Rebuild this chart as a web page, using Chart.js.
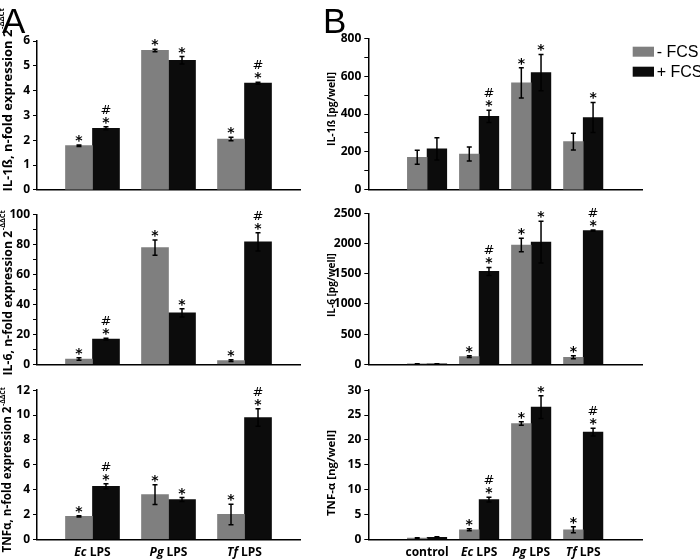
<!DOCTYPE html>
<html>
<head>
<meta charset="utf-8">
<script src="https://cdn.jsdelivr.net/npm/chart.js@4.4.1/dist/chart.umd.min.js"></script>
<style>
  body { margin: 0; background: #fff; }
  #fig { position: relative; width: 700px; height: 559px; overflow: hidden; }
  #fig canvas { position: absolute; }
</style>
</head>
<body>
<div id="fig">
  <canvas id="a1" width="310" height="200" style="left:0;top:0"></canvas>
  <canvas id="a2" width="310" height="180" style="left:0;top:200px"></canvas>
  <canvas id="a3" width="310" height="179" style="left:0;top:380px"></canvas>
  <canvas id="b1" width="380" height="200" style="left:320px;top:0"></canvas>
  <canvas id="b2" width="380" height="180" style="left:320px;top:200px"></canvas>
  <canvas id="b3" width="380" height="179" style="left:320px;top:380px"></canvas>
</div>
<script>
// categories and series
const catsA = ['Ec LPS', 'Pg LPS', 'Tf LPS'];
const catsB = ['control', 'Ec LPS', 'Pg LPS', 'Tf LPS'];
const seriesNames = ['- FCS', '+ FCS'];

// A - mRNA, n-fold expression
const il1bA_minus = [1.78, 5.62, 2.05];
const il1bA_minusErr = [0.03, 0.05, 0.07];
const il1bA_plus = [2.48, 5.22, 4.30];
const il1bA_plusErr = [0.06, 0.15, 0.04];
const il6A_minus = [3.5, 77.8, 2.4];
const il6A_minusErr = [0.8, 5.1, 0.6];
const il6A_plus = [16.8, 34.3, 81.6];
const il6A_plusErr = [0.6, 2.7, 6.1];
const tnfA_minus = [1.84, 3.6, 2.0];
const tnfA_minusErr = [0.05, 0.8, 0.83];
const tnfA_plus = [4.27, 3.2, 9.8];
const tnfA_plusErr = [0.2, 0.16, 0.7];

// B - protein per well
const il1bB_minus = [172, 189, 565, 254];
const il1bB_minusErr = [37, 37, 80, 44];
const il1bB_plus = [216, 388, 619, 382];
const il1bB_plusErr = [59, 32, 96, 79];
const il6B_minus = [8, 127, 1975, 116];
const il6B_minusErr = [3, 15, 110, 25];
const il6B_plus = [8, 1538, 2024, 2212];
const il6B_plusErr = [3, 66, 345, 10];
const tnfB_minus = [0.25, 1.93, 23.3, 1.93];
const tnfB_minusErr = [0.05, 0.2, 0.33, 0.6];
const tnfB_plus = [0.4, 7.98, 26.6, 21.56];
const tnfB_plusErr = [0.1, 0.5, 2.3, 0.8];

// significance marks
const sigA_minus = ['*', '*', '*'];
const sigA_plus = ['#*', '*', '#*'];
const sigB1_minus = ['', '', '*', ''];
const sigB1_plus = ['', '#*', '*', '*'];
const sigB_minus = ['', '*', '*', '*'];
const sigB_plus = ['', '#*', '*', '#*'];

// tick labels
const ticksA1 = [0, 1, 2, 3, 4, 5, 6];
const ticksA2 = [0, 20, 40, 60, 80, 100];
const ticksA3 = [0, 2, 4, 6, 8, 10, 12];
const ticksB1 = [0, 200, 400, 600, 800];
const ticksB2 = [0, 500, 1000, 1500, 2000, 2500];
const ticksB3 = [0, 5, 10, 15, 20, 25, 30];

const FONT = '"Open Sans", "DejaVu Sans", sans-serif';
Chart.defaults.font.family = FONT;
Chart.defaults.color = '#000';

const GRAY = '#7f7f7f';
const BLACK = '#0c0c0c';

// error bars + */# marks
const errorBars = {
  id: 'errorBars',
  afterDatasetsDraw(chart) {
    const ctx = chart.ctx;
    const y = chart.scales.y;
    chart.data.datasets.forEach((ds, di) => {
      const meta = chart.getDatasetMeta(di);
      meta.data.forEach((bar, i) => {
        const v = ds.data[i].y, e = ds.err[i];
        const top = y.getPixelForValue(v + e);
        const bot = y.getPixelForValue(Math.max(0, v - e));
        ctx.save();
        ctx.strokeStyle = '#000';
        ctx.lineWidth = 1.5;
        ctx.beginPath();
        ctx.moveTo(bar.x, top); ctx.lineTo(bar.x, bot);
        ctx.moveTo(bar.x - 2.5, top); ctx.lineTo(bar.x + 2.5, top);
        ctx.moveTo(bar.x - 2.5, bot); ctx.lineTo(bar.x + 2.5, bot);
        ctx.stroke();
        const s = ds.sig[i];
        ctx.fillStyle = '#000';
        ctx.textAlign = 'center';
        ctx.textBaseline = 'alphabetic';
        if (s.includes('*')) {
          ctx.font = 'bold 14px "DejaVu Sans"';
          ctx.fillText('*', bar.x, top);
        }
        if (s.includes('#')) {
          ctx.font = '13px "DejaVu Sans"';
          ctx.fillText('#', bar.x, top - 13);
        }
        ctx.restore();
      });
    });
  }
};

// axis titles, panel letters, legend, category labels
const deco = {
  id: 'deco',
  afterDraw(chart, args, o) {
    const ctx = chart.ctx;
    ctx.save();
    ctx.fillStyle = '#000';
    ctx.translate(o.titleX, o.titleY);
    ctx.rotate(-Math.PI / 2);
    // fit the title to its length in the figure
    const measure = size => {
      ctx.font = 'bold ' + size + 'px ' + FONT;
      let w = ctx.measureText(o.title).width;
      if (o.sup) { ctx.font = 'bold ' + size * 0.6 + 'px ' + FONT; w += ctx.measureText(o.sup).width; }
      return w;
    };
    const size = 10 * o.titleLen / measure(10);
    const f1 = 'bold ' + size + 'px ' + FONT;
    const f2 = 'bold ' + (size * 0.6) + 'px ' + FONT;
    ctx.font = f1;
    const w1 = ctx.measureText(o.title).width;
    const x0 = -o.titleLen / 2;
    ctx.textBaseline = 'middle';
    ctx.textAlign = 'left';
    ctx.fillText(o.title, x0, 0);
    if (o.sup) {
      ctx.font = f2;
      ctx.fillText(o.sup, x0 + w1 + 0.5, -size * 0.45);
    }
    ctx.restore();

    if (o.letter) {
      ctx.save();
      ctx.font = '35px "Liberation Sans"';
      ctx.fillStyle = '#000';
      ctx.fillText(o.letter, o.letterX, 33);
      ctx.restore();
    }

    if (o.legend) {
      ctx.save();
      const lx = chart.width - 67.3;
      ctx.font = '16px "Liberation Sans"';
      ctx.textBaseline = 'middle';
      chart.data.datasets.forEach((ds, i) => {
        const ry = 46.7 + i * 20;
        ctx.fillStyle = ds.backgroundColor;
        ctx.fillRect(lx, ry, 21.3, 10);
        ctx.fillStyle = '#000';
        ctx.fillText(ds.label, lx + 24, ry + 5.5);
      });
      ctx.restore();
    }

    if (o.labelsY) {
      ctx.save();
      const xs = chart.scales.x;
      ctx.fillStyle = '#000';
      ctx.textBaseline = 'middle';
      o.cats.forEach((c, i) => {
        const cx = xs.getPixelForValue(i);
        const sp = c.indexOf(' ');
        const parts = sp > 0 ? [[c.slice(0, sp), 'italic bold'], [c.slice(sp), 'bold']] : [[c, 'bold']];
        let total = 0;
        parts.forEach(p => { ctx.font = p[1] + ' 12px ' + FONT; total += ctx.measureText(p[0]).width; });
        let x = cx - total / 2;
        parts.forEach(p => {
          ctx.font = p[1] + ' 12px ' + FONT;
          ctx.fillText(p[0], x, o.labelsY);
          x += ctx.measureText(p[0]).width;
        });
      });
      ctx.restore();
    }
  }
};

function panel(id, o) {
  const n = o.cats.length;
  const pts = arr => arr.map((v, i) => ({ x: i, y: v }));
  return new Chart(document.getElementById(id), {
    type: 'bar',
    data: {
      datasets: [
        { label: seriesNames[0], data: pts(o.minus), err: o.minusErr, sig: o.minusSig,
          backgroundColor: GRAY, barThickness: o.bw },
        { label: seriesNames[1], data: pts(o.plus), err: o.plusErr, sig: o.plusSig,
          backgroundColor: BLACK, barThickness: o.bw }
      ]
    },
    options: {
      responsive: false,
      animation: false,
      devicePixelRatio: 1,
      layout: { padding: { top: o.padTop, right: o.padRight, left: 0, bottom: 0 } },
      scales: {
        x: {
          type: 'linear',
          min: -o.margin,
          max: n - 1 + o.margin,
          ticks: { display: false },
          grid: { display: false },
          border: { display: true, color: '#000', width: 1.5 },
          afterFit: s => { s.height = o.xH; }
        },
        y: {
          min: 0,
          max: o.ticks[o.ticks.length - 1],
          ticks: {
            stepSize: o.minor,
            autoSkip: false,
            padding: 3,
            font: { size: 12, weight: 'bold' },
            callback: v => (o.ticks.includes(v) ? v : '')
          },
          grid: { drawOnChartArea: false, drawTicks: true, tickLength: 4, color: '#000', lineWidth: 1 },
          border: { display: true, color: '#000', width: 1.5 },
          afterFit: s => { s.width = o.yW; }
        }
      },
      plugins: { legend: { display: false }, tooltip: { enabled: false }, deco: o }
    },
    plugins: [errorBars, deco]
  });
}

const sup = '-\u0394\u0394Ct';
const baseA = { cats: catsA, margin: 0.384, bw: 27, yW: 37, padRight: 10, titleX: 8,
  minusSig: sigA_minus, plusSig: sigA_plus };
const baseB = { cats: catsB, margin: 0.472, bw: 19.7, yW: 48.3, padRight: 58, titleX: 11.7 };

panel('a1', Object.assign({}, baseA, {
  minus: il1bA_minus, minusErr: il1bA_minusErr, plus: il1bA_plus, plusErr: il1bA_plusErr,
  ticks: ticksA1, minor: 1, padTop: 41, xH: 10,
  title: 'IL-1\u00df, n-fold expression 2', sup: sup, titleLen: 183, titleY: 100,
  letter: 'A', letterX: 2
}));
panel('a2', Object.assign({}, baseA, {
  minus: il6A_minus, minusErr: il6A_minusErr, plus: il6A_plus, plusErr: il6A_plusErr,
  ticks: ticksA2, minor: 10, padTop: 14.3, xH: 15.7,
  title: 'IL-6, n-fold expression 2', sup: sup, titleLen: 165, titleY: 93
}));
panel('a3', Object.assign({}, baseA, {
  minus: tnfA_minus, minusErr: tnfA_minusErr, plus: tnfA_plus, plusErr: tnfA_plusErr,
  ticks: ticksA3, minor: 2, padTop: 9.3, xH: 19.7,
  title: 'TNF\u03b1, n-fold expression 2', sup: sup, titleLen: 165, titleY: 90,
  labelsY: 173
}));
panel('b1', Object.assign({}, baseB, {
  minus: il1bB_minus, minusErr: il1bB_minusErr, plus: il1bB_plus, plusErr: il1bB_plusErr,
  minusSig: sigB1_minus, plusSig: sigB1_plus,
  ticks: ticksB1, minor: 100, padTop: 38.3, xH: 9.7,
  title: 'IL-1\u00df [pg/well]', titleLen: 74, titleY: 109,
  letter: 'B', letterX: 3, legend: true
}));
panel('b2', Object.assign({}, baseB, {
  minus: il6B_minus, minusErr: il6B_minusErr, plus: il6B_plus, plusErr: il6B_plusErr,
  minusSig: sigB_minus, plusSig: sigB_plus,
  ticks: ticksB2, minor: 500, padTop: 13.3, xH: 15.7,
  title: 'IL-6 [pg/well]', titleLen: 64, titleY: 85
}));
panel('b3', Object.assign({}, baseB, {
  minus: tnfB_minus, minusErr: tnfB_minusErr, plus: tnfB_plus, plusErr: tnfB_plusErr,
  minusSig: sigB_minus, plusSig: sigB_plus,
  ticks: ticksB3, minor: 5, padTop: 9, xH: 19.7,
  title: 'TNF-\u03b1 [ng/well]', titleLen: 86, titleY: 93,
  labelsY: 173
}));
</script>
</body>
</html>
